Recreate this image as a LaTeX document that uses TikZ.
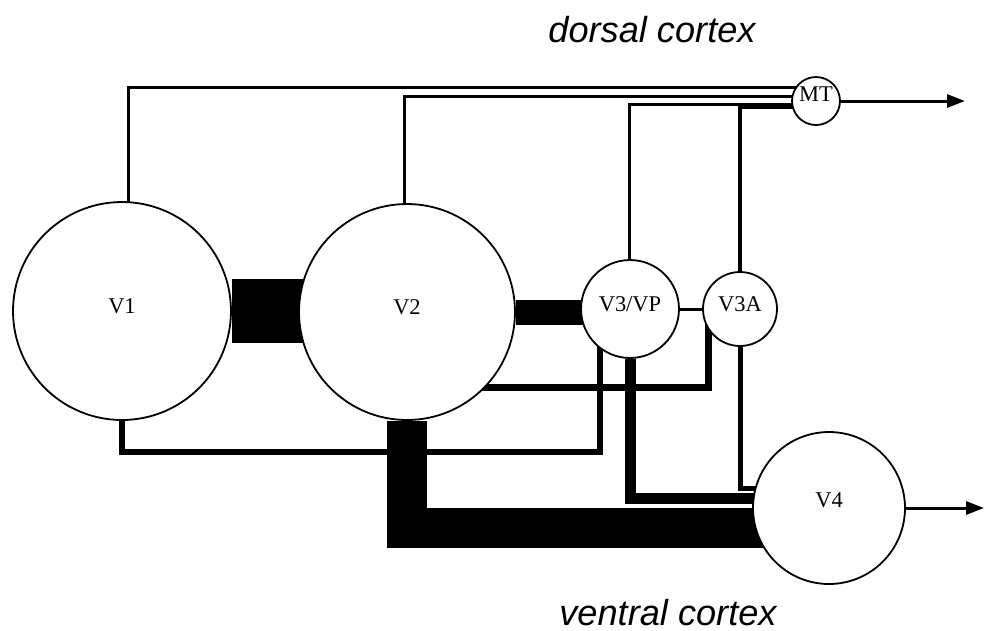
\documentclass[tikz,border=0pt]{standalone}
\usepackage{fontspec}
\setmainfont{Liberation Serif}
\newfontfamily\cortexfont{Liberation Sans}
\usetikzlibrary{arrows.meta,backgrounds,calc}

\begin{document}
\begin{tikzpicture}[x=0.02cm,y=-0.02cm,
  area/.style={circle,draw,fill=white,line width=0.036cm,inner sep=0pt,text depth=0.2cm,font=\fontsize{12.8}{15}\selectfont},
  tract/.style={line width=#1*0.02cm,line join=miter},tract/.default=3,
  outflow/.style={line width=0.06cm,-{Triangle[length=0.36cm,width=0.26cm]}},
  region/.style={font=\cortexfont\itshape\fontsize{20.6}{24}\selectfont,anchor=base}]
\useasboundingbox (0,0) rectangle (984,630);
\node[area,minimum size=4.36cm] (V1) at (122,311) {V1};
\node[area,minimum size=4.32cm] (V2) at (407,312) {V2};
\node[area,minimum size=1.96cm] (V3VP) at (630,309) {V3/VP};
\node[area,minimum size=1.48cm] (V3A) at (740,309) {V3A};
\node[area,minimum size=0.96cm,text depth=0.26cm] (MT) at (816,101) {MT};
\node[area,minimum size=3.04cm,text depth=0.32cm] (V4) at (829,508) {V4};
\node[region] (dorsal) at (652,42) {dorsal cortex};
\node[region] (ventral) at (668,625) {ventral cortex};
\coordinate (dorsalout) at (965,101);
\coordinate (ventralout) at (984,508);
\begin{scope}[on background layer]
\foreach \a/\dx/\y in {V1/6/87,V2/-3/96,V3VP/-1/104} {\draw[tract] ($(\a)+(\dx,0)$) |- (MT |- 0,\y);}
\draw[tract=4.5] (V3A) |- (MT |- 0,107);
\draw[tract=64] (V1) -- (V1 -| V2);
\draw[tract=25] (V2) -- (V2 -| V3VP);
\draw[tract] (V3VP) -- (V3A);
\draw[tract=5.5] (V1) -- (V1 |- 0,452) -| ($(V3VP)+(-30,0)$);
\draw[tract=7] (V2 |- 0,387) -| ($(V3A)+(-32,0)$);
\draw[tract=40] (V2) |- ($(V4)+(0,20)$);
\draw[tract=11] (V3VP) |- ($(V4)+(0,-10)$);
\draw[tract=5] (V3A) |- ($(V4)+(0,-20)$);
\end{scope}
\draw[outflow] (MT.east) -- (dorsalout);
\draw[outflow] (V4.east) -- (ventralout);
\end{tikzpicture}
\end{document}
